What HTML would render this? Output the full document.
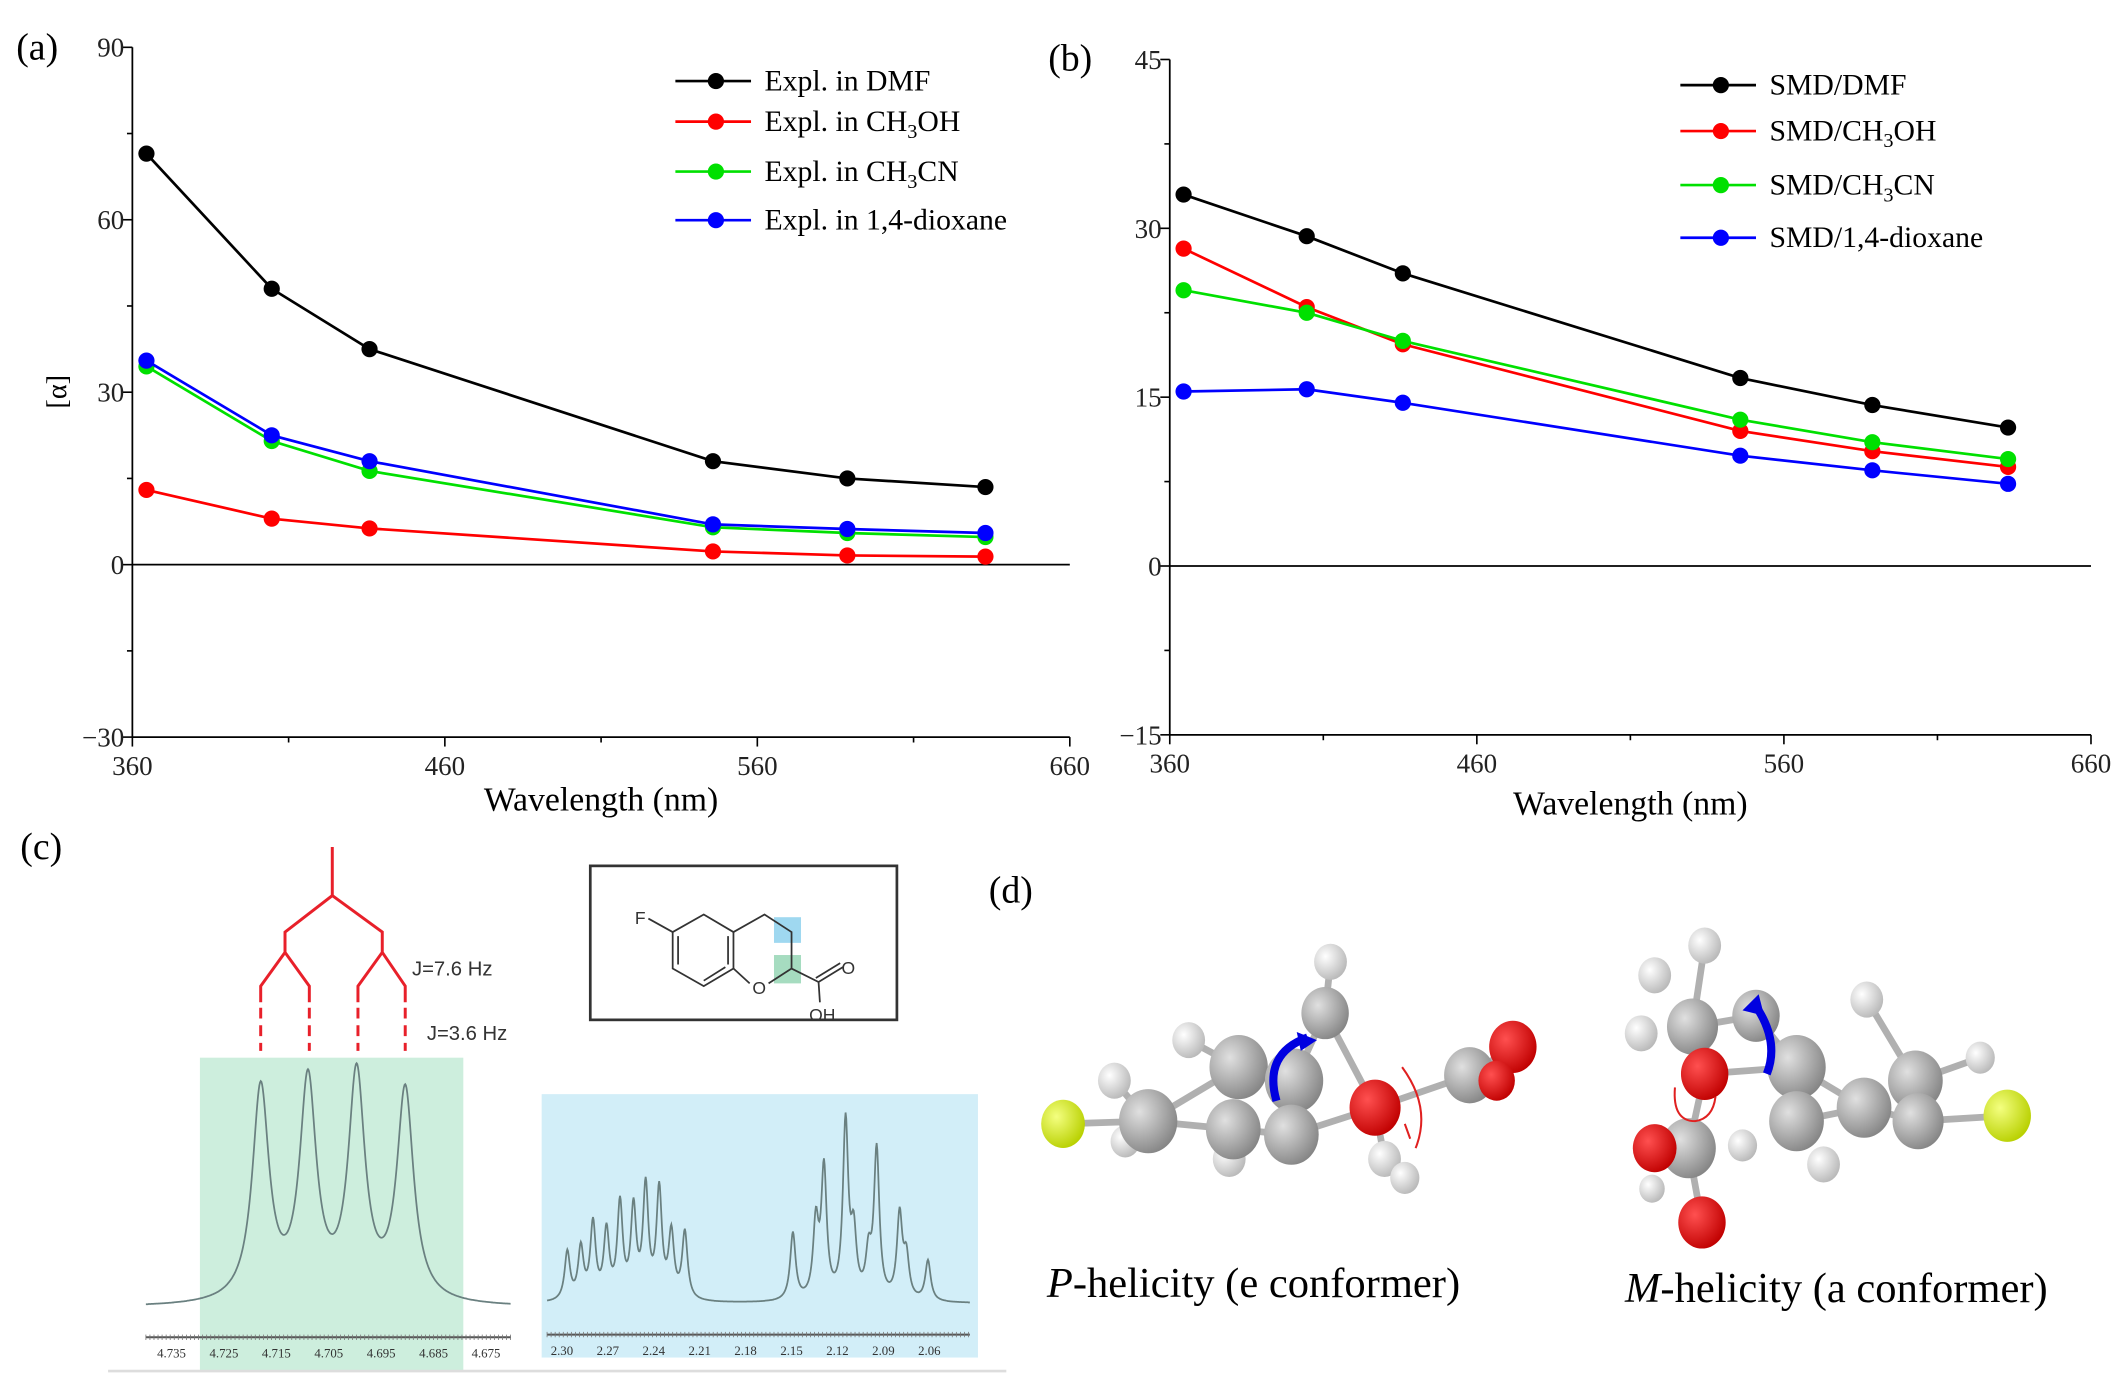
<!DOCTYPE html>
<html><head><meta charset="utf-8">
<style>html,body{margin:0;padding:0;background:#fff;}svg{display:block}</style></head>
<body>
<svg id="s" xmlns="http://www.w3.org/2000/svg" width="2118" height="1385" viewBox="0 0 1568 1025.3" font-family="'Liberation Serif',serif">
<rect x="0" y="0" width="1568" height="1026" fill="#fff"/>
<g id="g"></g>
<text x="12" y="44" font-size="28">(a)</text>
<text x="776" y="52" font-size="28">(b)</text>
<text x="15" y="636" font-size="28">(c)</text>
<text x="732" y="668" font-size="28">(d)</text>
<text transform="translate(49,290) rotate(-90)" font-size="21" text-anchor="middle">[α]</text>
<text x="445" y="600" font-size="25" text-anchor="middle">Wavelength (nm)</text>
<text x="1207" y="603" font-size="25" text-anchor="middle">Wavelength (nm)</text>

<rect x="148" y="783" width="195" height="232" fill="#cdeedd"/>
<rect x="401" y="810" width="323" height="195" fill="#d2eef8"/>
<line x1="80" y1="1015" x2="745" y2="1015" stroke="#ddd" stroke-width="2"/>
<g stroke="#e8202a" stroke-width="2.2" fill="none">
<path d="M246,627 V663 L211,690 V705 M246,663 L283,690 V705 M211,705 L193,730 V742 M211,705 L229,730 V742 M283,705 L265,730 V742 M283,705 L300,730 V742"/>
<path d="M193,746 V778 M229,746 V778 M265,746 V778 M300,746 V778" stroke-dasharray="8,5"/>
</g>
<text x="305" y="722" font-family="'Liberation Sans',sans-serif" font-size="15" fill="#333">J=7.6 Hz</text>
<text x="316" y="770" font-family="'Liberation Sans',sans-serif" font-size="15" fill="#333">J=3.6 Hz</text>
<rect x="437" y="641" width="227" height="114" fill="#fff" stroke="#333" stroke-width="2"/>
<rect x="573" y="679" width="20" height="19" fill="#9fd8f0"/>
<rect x="573" y="707" width="20" height="21" fill="#a6dcc0"/>
<g stroke="#333" stroke-width="1.3" fill="none">
<path d="M521,677 L543,690 L543,717 L521,730 L498,717 L498,690 Z M502,714 L502,693 M539,693 L539,714 M521,726 L537,716"/>
<path d="M498,690 L480,680 M543,690 L566,677 L586,690 L586,717 L569,728 M555,728 L543,717 M586,717 L606,727 L624,716 M606,727 L607,742"/>
<path d="M604,724 L622,713" />
</g>
<text x="470" y="684" font-family="'Liberation Sans',sans-serif" font-size="13" fill="#333">F</text>
<text x="557" y="736" font-family="'Liberation Sans',sans-serif" font-size="13" fill="#333">O</text>
<text x="623" y="721" font-family="'Liberation Sans',sans-serif" font-size="13" fill="#333">O</text>
<text x="599" y="756" font-family="'Liberation Sans',sans-serif" font-size="13" fill="#333">OH</text>
<g id="spec"></g>

<g id="mol"></g>
<text x="775" y="960" font-size="31.5"><tspan font-style="italic">P</tspan>-helicity (e conformer)</text>
<text x="1203" y="964" font-size="31.5"><tspan font-style="italic">M</tspan>-helicity (a conformer)</text>
</svg>
<script>
var NS="http://www.w3.org/2000/svg";
function el(p,t,a,txt){var e=document.createElementNS(NS,t);for(var k in a)e.setAttribute(k,a[k]);if(txt!==undefined)e.textContent=txt;p.appendChild(e);return e;}
var g=document.getElementById('g');
var nm=[364.5,404.6,435.9,545.8,588.8,633.0];
function panel(x0,x1,yf,ymin,ymax,step,series,leg){
 var xs=function(n){return x0+(n-360)*(x1-x0)/300;};
 var yb=yf(ymin),yt=yf(ymax);
 el(g,'line',{x1:x0,y1:yt,x2:x0,y2:yb,stroke:'#000','stroke-width':1.3});
 el(g,'line',{x1:x0,y1:yb,x2:x1,y2:yb,stroke:'#000','stroke-width':1.3});
 el(g,'line',{x1:x0,y1:yf(0),x2:x1,y2:yf(0),stroke:'#000','stroke-width':1.3});
 for(var n=360;n<=660;n+=50){var maj=(n%100==60);var X=xs(n);
  el(g,'line',{x1:X,y1:yb,x2:X,y2:yb+(maj?7:4),stroke:'#000','stroke-width':1.2});
  if(maj)el(g,'text',{x:X,y:yb+28,'font-size':20,'text-anchor':'middle',fill:'#222'},n);}
 for(var v=ymin;v<=ymax+0.01;v+=step/2){var maj=Math.abs((v-ymin)%step)<0.01;var Y=yf(v);
  el(g,'line',{x1:x0,y1:Y,x2:x0-(maj?7:4),y2:Y,stroke:'#000','stroke-width':1.2});
  if(maj)el(g,'text',{x:x0-6,y:Y+7,'font-size':20,'text-anchor':'end',fill:'#222'},v<0?'\u2212'+(-v):v);}
 series.forEach(function(s){
  var pts=nm.map(function(n,i){return xs(n)+','+yf(s.d[i]);}).join(' ');
  el(g,'polyline',{points:pts,fill:'none',stroke:s.c,'stroke-width':2});
  nm.forEach(function(n,i){el(g,'circle',{cx:xs(n),cy:yf(s.d[i]),r:6,fill:s.c});});
 });
 leg.forEach(function(l,i){var s=series[i];
  el(g,'line',{x1:l[0],y1:l[1],x2:l[0]+56,y2:l[1],stroke:s.c,'stroke-width':2});
  el(g,'circle',{cx:l[0]+30,cy:l[1],r:6,fill:s.c});
  var t=el(g,'text',{x:l[0]+66,y:l[1]+7,'font-size':22});
  l[2].forEach(function(p){el(t,'tspan',p[1]?{'font-size':15,dy:5}:{dy:p[2]||0},p[0]);});
 });
}
function lab(a,b,c){return b===undefined?[[a,0]]:[[a,0],[b,1],[c,0,-5]];}
panel(98,792,function(v){return 418-v*4.2556;},-30,90,30,[
 {c:'#000',d:[71.5,48,37.5,18,15,13.5]},
 {c:'#f00',d:[13,8,6.3,2.3,1.6,1.4]},
 {c:'#00e000',d:[34.5,21.5,16.3,6.5,5.5,4.8]},
 {c:'#00f',d:[35.5,22.5,18,7,6.2,5.5]}],
 [[500,60,lab('Expl. in DMF')],[500,90,lab('Expl. in CH','3','OH')],[500,127,lab('Expl. in CH','3','CN')],[500,163,lab('Expl. in 1,4-dioxane')]]);
panel(866,1548,function(v){return 419-v*8.333;},-15,45,15,[
 {c:'#000',d:[33,29.3,26,16.7,14.3,12.3]},
 {c:'#f00',d:[28.2,23,19.7,12,10.2,8.8]},
 {c:'#00e000',d:[24.5,22.5,20,13,11,9.5]},
 {c:'#00f',d:[15.5,15.7,14.5,9.8,8.5,7.3]}],
 [[1244,63,lab('SMD/DMF')],[1244,97,lab('SMD/CH','3','OH')],[1244,137,lab('SMD/CH','3','CN')],[1244,176,lab('SMD/1,4-dioxane')]]);

var sp=document.getElementById('spec');
function spec(xa,xb,base,peaks,gam){var d='';for(var x=xa;x<=xb;x+=0.5){var y=0;peaks.forEach(function(p){y+=p[1]*gam*gam/((x-p[0])*(x-p[0])+gam*gam);});d+=(d?'L':'M')+x+','+(base-y).toFixed(1);}
 el(sp,'path',{d:d,fill:'none',stroke:'#6a8080','stroke-width':1.3});}
spec(108,378,968,[[193,158],[228,161],[264,166],[300,156]],7.5);
var L=[[420,36],[430,38],[439,56],[449,50],[459,70],[469,66],[478,82],[488,80],[497,48],[507,50]];
var R=[[587,50],[604,55],[610,95],[626,130],[632,45],[643,30],[649,110],[666,62],[671,30],[687,30]];
spec(405,718,965,L.concat(R),2.4);
function axis(xa,xb,y,labels,l0,step){el(sp,'line',{x1:xa,y1:y,x2:xb,y2:y,stroke:'#555','stroke-width':1.5});
 for(var x=xa;x<=xb;x+=3)el(sp,'line',{x1:x,y1:y-2,x2:x,y2:y+2,stroke:'#777','stroke-width':0.6});
 labels.forEach(function(t,i){el(sp,'text',{x:l0+i*step,y:y+15,'font-size':9.5,'text-anchor':'middle',fill:'#333'},t);});}
axis(108,378,990,['4.735','4.725','4.715','4.705','4.695','4.685','4.675'],127,38.8);
axis(405,718,988,['2.30','2.27','2.24','2.21','2.18','2.15','2.12','2.09','2.06'],416,34);

var m=document.getElementById('mol');
var defs=el(m,'defs',{});
function rg(id,c1,c2){var r=el(defs,'radialGradient',{id:id,cx:'0.35',cy:'0.35',r:'0.7'});el(r,'stop',{offset:'0','stop-color':c1});el(r,'stop',{offset:'1','stop-color':c2});}
rg('gC','#e0e0e0','#858585');rg('gO','#ff5050','#c00000');rg('gH','#ffffff','#b8b8b8');rg('gF','#f4ff80','#b8d000');
var S=1.35;
function bonds(list){list.forEach(function(b){el(m,'line',{x1:b[0],y1:b[1],x2:b[2],y2:b[3],stroke:'#b0b0b0','stroke-width':5});});}
function at(list,t){list.forEach(function(a){el(m,'ellipse',{cx:a[0],cy:a[1],rx:a[2]*S,ry:a[2]*S*1.1,fill:'url(#g'+t+')'});});}
bonds([[787,832,850,830],[850,830,917,790],[850,830,913,836],[913,836,956,840],[917,790,958,800],[958,800,956,840],[958,800,981,750],[981,750,1018,820],[1018,820,1088,796],[956,840,1018,820],[1088,796,1120,775],[1088,796,1108,800],[825,800,850,830],[880,770,917,790],[985,712,981,750],[910,858,913,836],[1025,858,1018,820]]);
at([[825,800,9],[833,845,8],[880,770,9],[985,712,9],[910,858,9],[1025,858,9],[1040,872,8]],'H');
at([[850,830,16],[917,790,16],[913,836,15],[958,800,16],[956,840,15],[981,750,13],[1088,796,14]],'C');
at([[1018,820,14],[1120,775,13],[1108,800,10]],'O');
at([[787,832,12]],'F');
el(m,'path',{d:'M945,815 Q935,780 968,768',stroke:'#0000e0','stroke-width':6,fill:'none'});
el(m,'path',{d:'M960,764 L975,770 L963,778Z',fill:'#0000e0'});
el(m,'path',{d:'M1038,790 Q1060,820 1048,850 M1044,843 L1040,832',stroke:'#e02020','stroke-width':1.5,fill:'none'});
bonds([[1486,826,1420,830],[1420,830,1380,820],[1380,820,1330,830],[1330,830,1330,790],[1330,790,1300,752],[1300,752,1253,760],[1253,760,1262,795],[1262,795,1330,790],[1262,795,1250,850],[1250,850,1225,850],[1250,850,1260,905],[1418,800,1420,830],[1330,790,1380,820],[1262,700,1253,760],[1382,740,1418,800],[1466,783,1418,800]]);
at([[1262,700,9],[1225,722,9],[1382,740,9],[1215,765,9],[1466,783,8],[1290,848,8],[1350,862,9],[1223,880,7]],'H');
at([[1253,760,14],[1300,752,13],[1330,790,16],[1330,830,15],[1380,820,15],[1418,800,15],[1420,830,14],[1250,850,15]],'C');
at([[1262,795,13],[1225,850,12],[1260,905,13]],'O');
at([[1486,826,13]],'F');
el(m,'path',{d:'M1298,742 Q1318,770 1308,795',stroke:'#0000e0','stroke-width':6,fill:'none'});
el(m,'path',{d:'M1290,748 L1302,736 L1306,752Z',fill:'#0000e0'});
el(m,'path',{d:'M1240,805 Q1238,830 1255,830 Q1268,828 1270,812',stroke:'#e02020','stroke-width':1.5,fill:'none'});
</script>
</body></html>
